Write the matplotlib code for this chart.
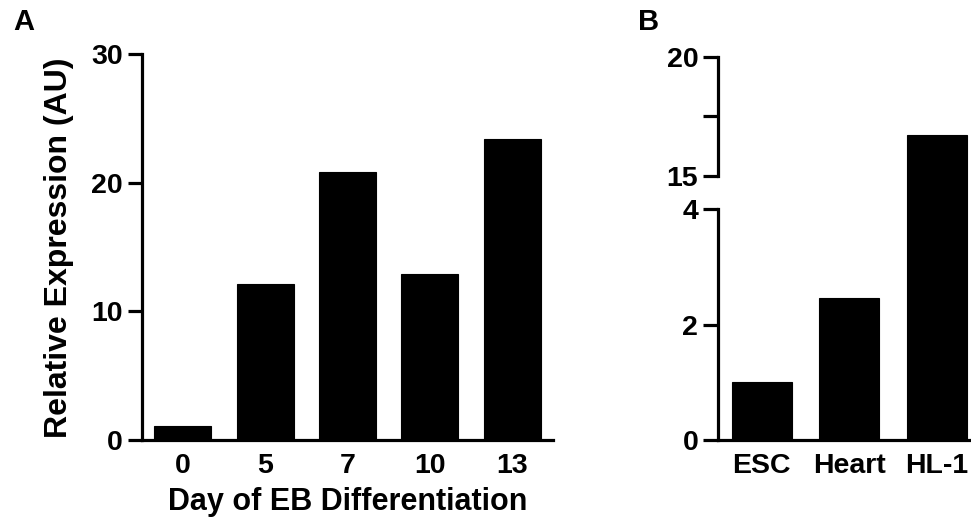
import numpy as np
import matplotlib
matplotlib.use("Agg")
import matplotlib.pyplot as plt
import matplotlib.transforms as mtransforms

plt.rcParams['font.family'] = ['Liberation Sans', 'DejaVu Sans']
plt.rcParams['font.weight'] = 'bold'

# panel A data
days = ['0', '5', '7', '10', '13']
expr_days = [1.05, 12.15, 20.86, 12.93, 23.37]

# panel B data
cells = ['ESC', 'Heart', 'HL-1']
expr_cells = [1.0, 2.46, 16.7]

W, H = 971, 526
fig = plt.figure(figsize=(W / 100, H / 100), dpi=100)

LW = 2.3
TICK_FS = 20.5


def box(x0, x1, ytop, ybot):
    return [x0 / W, 1 - ybot / H, (x1 - x0) / W, (ybot - ytop) / H]


# ---- panel A ----
ax = fig.add_axes(box(141.7, 553.3, 54.1, 440))
xa = np.arange(len(days))
ax.bar(xa, expr_days, width=0.69, color='black', edgecolor='black', linewidth=0.8)
ax.set_xlim(-0.5, 4.5)
ax.set_ylim(0, 30)
ax.set_yticks([0, 10, 20, 30])
ax.set_xticks(xa)
ax.set_xticklabels(days)
for s in ['top', 'right']:
    ax.spines[s].set_visible(False)
for s in ['left', 'bottom']:
    ax.spines[s].set_linewidth(LW)
ax.tick_params(axis='y', direction='out', length=10, width=LW, pad=3.5, labelsize=TICK_FS)
ax.tick_params(axis='x', length=0, pad=9.5, labelsize=TICK_FS)

fig.text(67 / W, 1 - 247.5 / H, 'Relative Expression (AU)', rotation=90,
         rotation_mode='anchor', ha='center', va='baseline', fontsize=23)
fig.text(348 / W, 1 - 510 / H, 'Day of EB Differentiation',
         ha='center', va='baseline', fontsize=22)
fig.text(13 / W, 1 - 30 / H, 'A', ha='left', va='baseline', fontsize=21)

# ---- panel B : broken y axis (0-4 and 15-20) ----
brk_data = [0, 4, 15, 20]
brk_disp = [0, 230.8, 264.4, 383.4]


def fwd(v):
    v = np.asarray(v, dtype=float)
    out = np.interp(v, brk_data, brk_disp)
    out = np.where(v < 0, v * 57.7, out)
    out = np.where(v > 20, 383.4 + (v - 20) * 23.8, out)
    return out


def inv(d):
    d = np.asarray(d, dtype=float)
    out = np.interp(d, brk_disp, brk_data)
    out = np.where(d < 0, d / 57.7, out)
    out = np.where(d > 383.4, 20 + (d - 383.4) / 23.8, out)
    return out


bx = fig.add_axes(box(718, 980.5, 56.7, 440))
xb = np.arange(len(cells))
bx.set_yscale('function', functions=(fwd, inv))
bx.bar(xb, expr_cells, width=0.69, color='black', edgecolor='black', linewidth=0.8)
bx.set_xlim(-0.5, 2.5)
bx.set_ylim(0, 20)
bx.set_yticks([0, 2, 4, 15, 17.5, 20])
bx.set_yticklabels(['0', '2', '4', '15', '', '20'])
bx.set_yticks([4, 15], minor=True)
bx.set_xticks(xb)
bx.set_xticklabels(cells)
for s in ['top', 'right', 'left']:
    bx.spines[s].set_visible(False)
bx.spines['bottom'].set_linewidth(LW)
bx.tick_params(axis='y', which='major', direction='out', length=10.8, width=LW,
               pad=3.5, labelsize=TICK_FS)
bx.tick_params(axis='y', which='minor', direction='in', length=4.3, width=LW)
bx.tick_params(axis='x', length=0, pad=9.5, labelsize=TICK_FS)

# two pieces of the left spine
trans = mtransforms.blended_transform_factory(bx.transAxes, bx.transData)
bx.plot([0, 0], [0, 4], transform=trans, color='black', lw=LW,
        solid_capstyle='projecting', clip_on=False)
bx.plot([0, 0], [15, 20], transform=trans, color='black', lw=LW,
        solid_capstyle='projecting', clip_on=False)

fig.text(638 / W, 1 - 30 / H, 'B', ha='left', va='baseline', fontsize=21)

fig.savefig('out.png', dpi=100)
